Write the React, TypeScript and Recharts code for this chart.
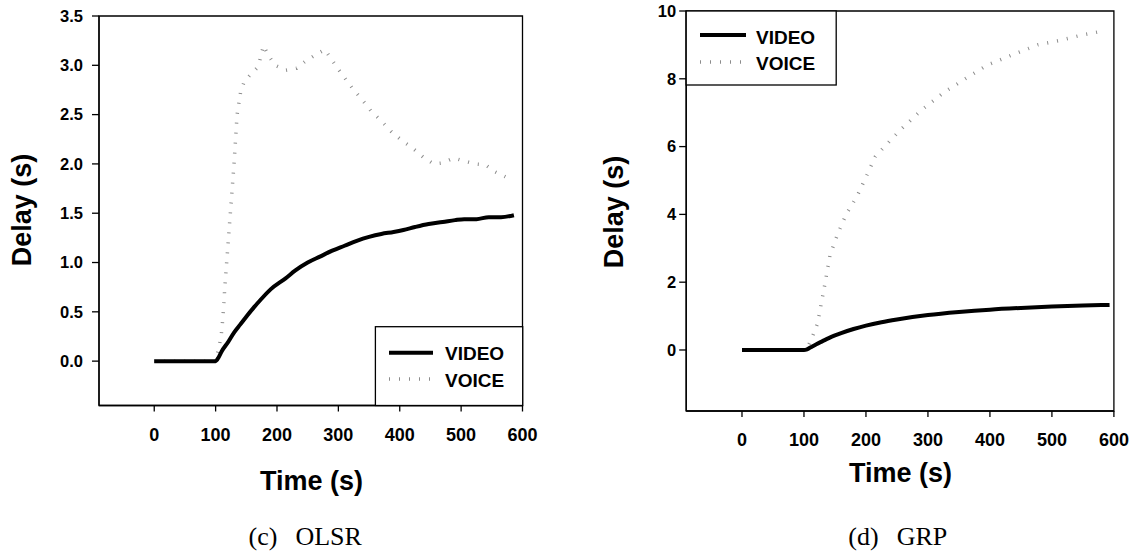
import React from 'react';
import { LineChart, Line, XAxis, YAxis, ReferenceArea } from 'recharts';

// ---- data ----
const xTicks = [0, 100, 200, 300, 400, 500, 600];
const olsrYTicks = [0, 0.5, 1, 1.5, 2, 2.5, 3, 3.5];
const grpYTicks = [0, 2, 4, 6, 8, 10];
const seriesNames = ['VIDEO', 'VOICE'];
const captionTags = ['(c)', '(d)'];
const captionNames = ['OLSR', 'GRP'];
const xTitle = 'Time (s)';
const yTitle = 'Delay (s)';

const olsrVideoTime = [0, 50, 100, 105, 110, 120, 130, 140, 150, 163, 173, 190, 214, 230, 250, 270, 290, 310, 330, 350, 370, 390, 406, 425, 447, 470, 490, 505, 525, 545, 565, 586];
const olsrVideoDelay = [0, 0, 0, 0.04, 0.1, 0.19, 0.29, 0.37, 0.45, 0.55, 0.62, 0.73, 0.84, 0.92, 1.0, 1.06, 1.12, 1.17, 1.22, 1.26, 1.29, 1.31, 1.33, 1.36, 1.39, 1.41, 1.43, 1.44, 1.44, 1.46, 1.46, 1.48];

const olsrVoiceTime = [0, 50, 100, 104, 109, 112, 115, 118, 121, 124, 127, 130, 135, 141, 147, 156, 167, 172, 178, 186, 197, 214, 232, 246, 261, 278, 290, 301, 313, 325, 339, 354, 371, 386, 403, 421, 438, 455, 470, 488, 505, 522, 540, 555, 572];
const olsrVoiceDelay = [0, 0, 0, 0.1, 0.25, 0.45, 0.75, 1.0, 1.25, 1.5, 1.75, 2.0, 2.5, 2.74, 2.84, 2.9, 2.97, 3.05, 3.2, 3.1, 3.0, 2.95, 2.97, 3.04, 3.1, 3.16, 3.05, 2.95, 2.85, 2.75, 2.65, 2.53, 2.43, 2.33, 2.24, 2.16, 2.07, 2.0, 2.01, 2.06, 2.03, 2.0, 1.99, 1.92, 1.87];

const grpVideoTime = [0, 50, 100, 105, 110, 120, 130, 140, 150, 160, 180, 200, 225, 250, 275, 300, 350, 400, 450, 500, 550, 593];
const grpVideoDelay = [0, 0, 0, 0.02, 0.07, 0.17, 0.26, 0.35, 0.43, 0.5, 0.62, 0.72, 0.82, 0.9, 0.97, 1.03, 1.12, 1.19, 1.24, 1.28, 1.31, 1.33];

const grpVoiceTime = [0, 50, 100, 105, 110, 116, 122, 128, 134, 142, 154, 168, 186, 200, 215, 230, 256, 291, 326, 360, 395, 442, 477, 512, 546, 580];
const grpVoiceDelay = [0, 0, 0, 0.05, 0.24, 0.5, 0.79, 1.38, 1.97, 2.8, 3.4, 4.0, 4.55, 5.1, 5.7, 6.0, 6.5, 7.1, 7.6, 8.0, 8.4, 8.75, 9.0, 9.13, 9.28, 9.4];

const toPoints = (t: number[], d: number[]) => t.map((x, i) => ({ t: x, d: d[i] }));

const SANS = '"Liberation Sans", Arial, sans-serif';
const SERIF = '"Liberation Serif", "Times New Roman", serif';
const VOICE_COLOR = '#8c8c8c';
const VOICE_DASH = '1 9';

type PanelProps = {
  left: number;
  width: number;
  margin: { top: number; right: number; bottom: number; left: number };
  yDomain: [number, number];
  yTicks: number[];
  fmt: (v: number) => string;
  video: { t: number; d: number }[];
  voice: { t: number; d: number }[];
  xTickMargin: number;
  yTickMargin: number;
};

const XTick = (props: any) => {
  const { x, y, payload } = props;
  return (
    <text x={x} y={y} dy="0.71em" textAnchor="middle" fontFamily={SANS} fontWeight={700} fontSize={18} fill="#000">
      {payload.value}
    </text>
  );
};

const makeYTick = (fmt: (v: number) => string) => (props: any) => {
  const { x, y, payload } = props;
  return (
    <text x={x} y={y} dy="0.355em" textAnchor="end" fontFamily={SANS} fontWeight={700} fontSize={16.5} fill="#000">
      {fmt(payload.value)}
    </text>
  );
};

function Panel(p: PanelProps) {
  return (
    <div style={{ position: 'absolute', left: p.left, top: 0, width: p.width, height: 551 }}>
      <LineChart width={p.width} height={551} margin={p.margin}>
        <XAxis
          type="number"
          dataKey="t"
          domain={[-90, 600]}
          ticks={xTicks}
          interval={0}
          allowDataOverflow
          height={40}
          tickSize={6}
          tickMargin={p.xTickMargin}
          axisLine={{ stroke: '#000', strokeWidth: 1.3 }}
          tickLine={{ stroke: '#000', strokeWidth: 1.3 }}
          tick={XTick}
        />
        <YAxis
          type="number"
          dataKey="d"
          domain={p.yDomain}
          ticks={p.yTicks}
          interval={0}
          allowDataOverflow
          width={60}
          tickSize={7}
          tickMargin={p.yTickMargin}
          axisLine={{ stroke: '#000', strokeWidth: 1.3 }}
          tickLine={{ stroke: '#000', strokeWidth: 1.3 }}
          tick={makeYTick(p.fmt)}
        />
        <ReferenceArea
          x1={-90}
          x2={600}
          y1={p.yDomain[0]}
          y2={p.yDomain[1]}
          fill="none"
          fillOpacity={0}
          stroke="#000"
          strokeWidth={1.3}
          ifOverflow="visible"
        />
        <Line
          data={p.voice}
          dataKey="d"
          name={seriesNames[1]}
          type="linear"
          stroke={VOICE_COLOR}
          strokeWidth={3.5}
          strokeDasharray={VOICE_DASH}
          dot={false}
          activeDot={false}
          isAnimationActive={false}
        />
        <Line
          data={p.video}
          dataKey="d"
          name={seriesNames[0]}
          type="monotone"
          stroke="#000"
          strokeWidth={4}
          dot={false}
          activeDot={false}
          isAnimationActive={false}
        />
      </LineChart>
    </div>
  );
}

function LegendBox(props: { x: number; y: number; w: number; h: number; lx1: number; lx2: number; tx: number; y1: number; y2: number; ty1: number; ty2: number }) {
  const { x, y, w, h, lx1, lx2, tx, y1, y2, ty1, ty2 } = props;
  return (
    <svg style={{ position: 'absolute', left: 0, top: 0, pointerEvents: 'none' }} width={1134} height={551}>
      <rect x={x} y={y} width={w} height={h} fill="#fff" stroke="#000" strokeWidth={1.3} />
      <line x1={lx1} x2={lx2} y1={y1} y2={y1} stroke="#000" strokeWidth={4} />
      <line x1={lx1} x2={lx2} y1={y2} y2={y2} stroke={VOICE_COLOR} strokeWidth={3.5} strokeDasharray={VOICE_DASH} />
      <text x={tx} y={ty1} dy="0.355em" fontFamily={SANS} fontWeight={700} fontSize={19} fill="#000">{seriesNames[0]}</text>
      <text x={tx} y={ty2} dy="0.355em" fontFamily={SANS} fontWeight={700} fontSize={19} fill="#000">{seriesNames[1]}</text>
    </svg>
  );
}

const centerText = (x: number, y: number, extra: React.CSSProperties = {}): React.CSSProperties => ({
  position: 'absolute',
  left: x,
  top: y,
  transform: 'translate(-50%, -50%)',
  whiteSpace: 'pre',
  lineHeight: 'normal',
  ...extra,
});

export default function App() {
  const titleStyle = { fontFamily: SANS, fontWeight: 700, fontSize: 27, color: '#000' };
  const capStyle = { fontFamily: SERIF, fontSize: 26, color: '#000' };
  return (
    <div style={{ position: 'absolute', left: 0, top: 0, width: 1134, height: 551, background: '#fff', overflow: 'hidden' }}>
      <Panel
        left={0}
        width={560}
        margin={{ top: 16, right: 37.5, bottom: 105.5, left: 39 }}
        yDomain={[-0.45, 3.5]}
        yTicks={olsrYTicks}
        fmt={(v: number) => v.toFixed(1)}
        video={toPoints(olsrVideoTime, olsrVideoDelay)}
        voice={toPoints(olsrVoiceTime, olsrVoiceDelay)}
        xTickMargin={17}
        yTickMargin={9}
      />
      <Panel
        left={570}
        width={564}
        margin={{ top: 11, right: 20.1, bottom: 100, left: 56.2 }}
        yDomain={[-1.8, 10]}
        yTicks={grpYTicks}
        fmt={(v: number) => String(v)}
        video={toPoints(grpVideoTime, grpVideoDelay)}
        voice={toPoints(grpVoiceTime, grpVoiceDelay)}
        xTickMargin={16}
        yTickMargin={3}
      />
      <LegendBox x={375.4} y={326.7} w={147.3} h={78.8} lx1={389} lx2={433} tx={445} y1={352.7} y2={379} ty1={353} ty2={380} />
      <LegendBox x={686.2} y={11} w={150} h={74} lx1={700} lx2={746} tx={756} y1={35} y2={62} ty1={37} ty2={63} />

      <div style={centerText(21.7, 210, { ...titleStyle, transform: 'translate(-50%, -50%) rotate(-90deg)' })}>{yTitle}</div>
      <div style={centerText(613.6, 211.7, { ...titleStyle, transform: 'translate(-50%, -50%) rotate(-90deg)' })}>{yTitle}</div>
      <div style={centerText(311.4, 480.5, titleStyle)}>{xTitle}</div>
      <div style={centerText(900.6, 472.8, titleStyle)}>{xTitle}</div>

      <div style={centerText(305.2, 536.5, capStyle)}>
        <span>{captionTags[0]}</span>
        <span style={{ display: 'inline-block', width: 18 }} />
        <span>{captionNames[0]}</span>
      </div>
      <div style={centerText(897.8, 537, capStyle)}>
        <span>{captionTags[1]}</span>
        <span style={{ display: 'inline-block', width: 18 }} />
        <span>{captionNames[1]}</span>
      </div>
    </div>
  );
}
